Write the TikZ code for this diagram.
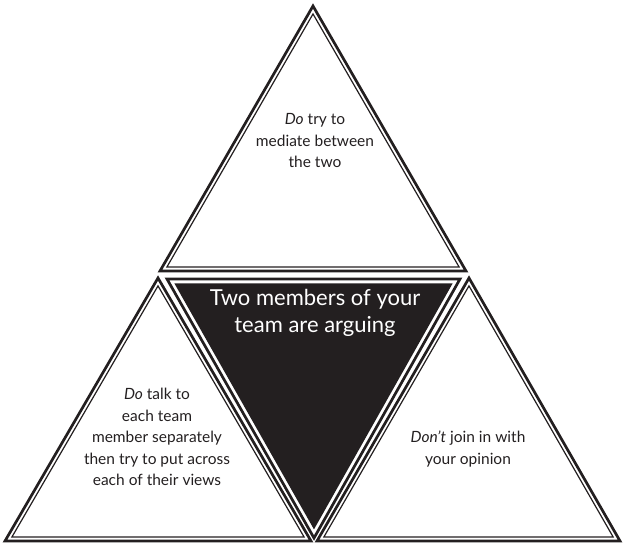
\documentclass[tikz,border=0pt]{standalone}
\usepackage{fontspec}
\setmainfont{Lato}
\usetikzlibrary{calc,positioning}
\definecolor{ink}{HTML}{231F20}

\begin{document}
\begin{tikzpicture}[x=1pt,y=-1pt,
  outer line/.style={draw=ink,line width=2.7pt,line join=miter},
  inner line/.style={draw=ink,line width=1.2pt,line join=miter},
  tip text/.style={align=center,text=ink,inner sep=0pt,
    font=\fontsize{15.5}{21.5}\selectfont},
  centre text/.style={align=center,text=white,inner sep=0pt,
    font=\fontsize{22}{27}\selectfont}]
  \useasboundingbox (0,0) rectangle (623,546);
  % corners of the four triangles
  \coordinate (topA) at (313,6);
  \coordinate (topB) at (160,271);
  \coordinate (topC) at (466,271);
  \coordinate (leftA) at (158,278);
  \coordinate (leftB) at (5,541);
  \coordinate (leftC) at (311,541);
  \coordinate (rightA) at (469,278);
  \coordinate (rightB) at (317,541);
  \coordinate (rightC) at (620,541);
  \coordinate (midA) at (314,538);
  \coordinate (midB) at (167,279);
  \coordinate (midC) at (460,279);
  % white triangles with a double border
  \foreach \t in {top,left,right}{
    \coordinate (\t G) at ($1/3*(\t A)+1/3*(\t B)+1/3*(\t C)$);
    \draw[outer line] (\t A) -- (\t B) -- (\t C) -- cycle;
    \draw[inner line] ($(\t A)!0.045!(\t G)$) -- ($(\t B)!0.045!(\t G)$)
      -- ($(\t C)!0.045!(\t G)$) -- cycle;
  }
  % black triangle in the middle
  \coordinate (midG) at ($1/3*(midA)+1/3*(midB)+1/3*(midC)$);
  \draw[outer line] (midA) -- (midB) -- (midC) -- cycle;
  \fill[ink] ($(midA)!0.05!(midG)$) -- ($(midB)!0.05!(midG)$)
    -- ($(midC)!0.05!(midG)$) -- cycle;
  % texts
  \node[centre text] (arguing) at (315,313) {Two members of your\\team are arguing};
  \node[tip text] (mediate) at (315,141) {\textit{Do} try to\\mediate between\\the two};
  \node[tip text] (talk) at (157,437) {\textit{Do} talk to\\each team\\member separately\\then try to put across\\each of their views};
  \node[tip text] (join) at (468,449) {\textit{Don’t} join in with\\your opinion};
\end{tikzpicture}
\end{document}
